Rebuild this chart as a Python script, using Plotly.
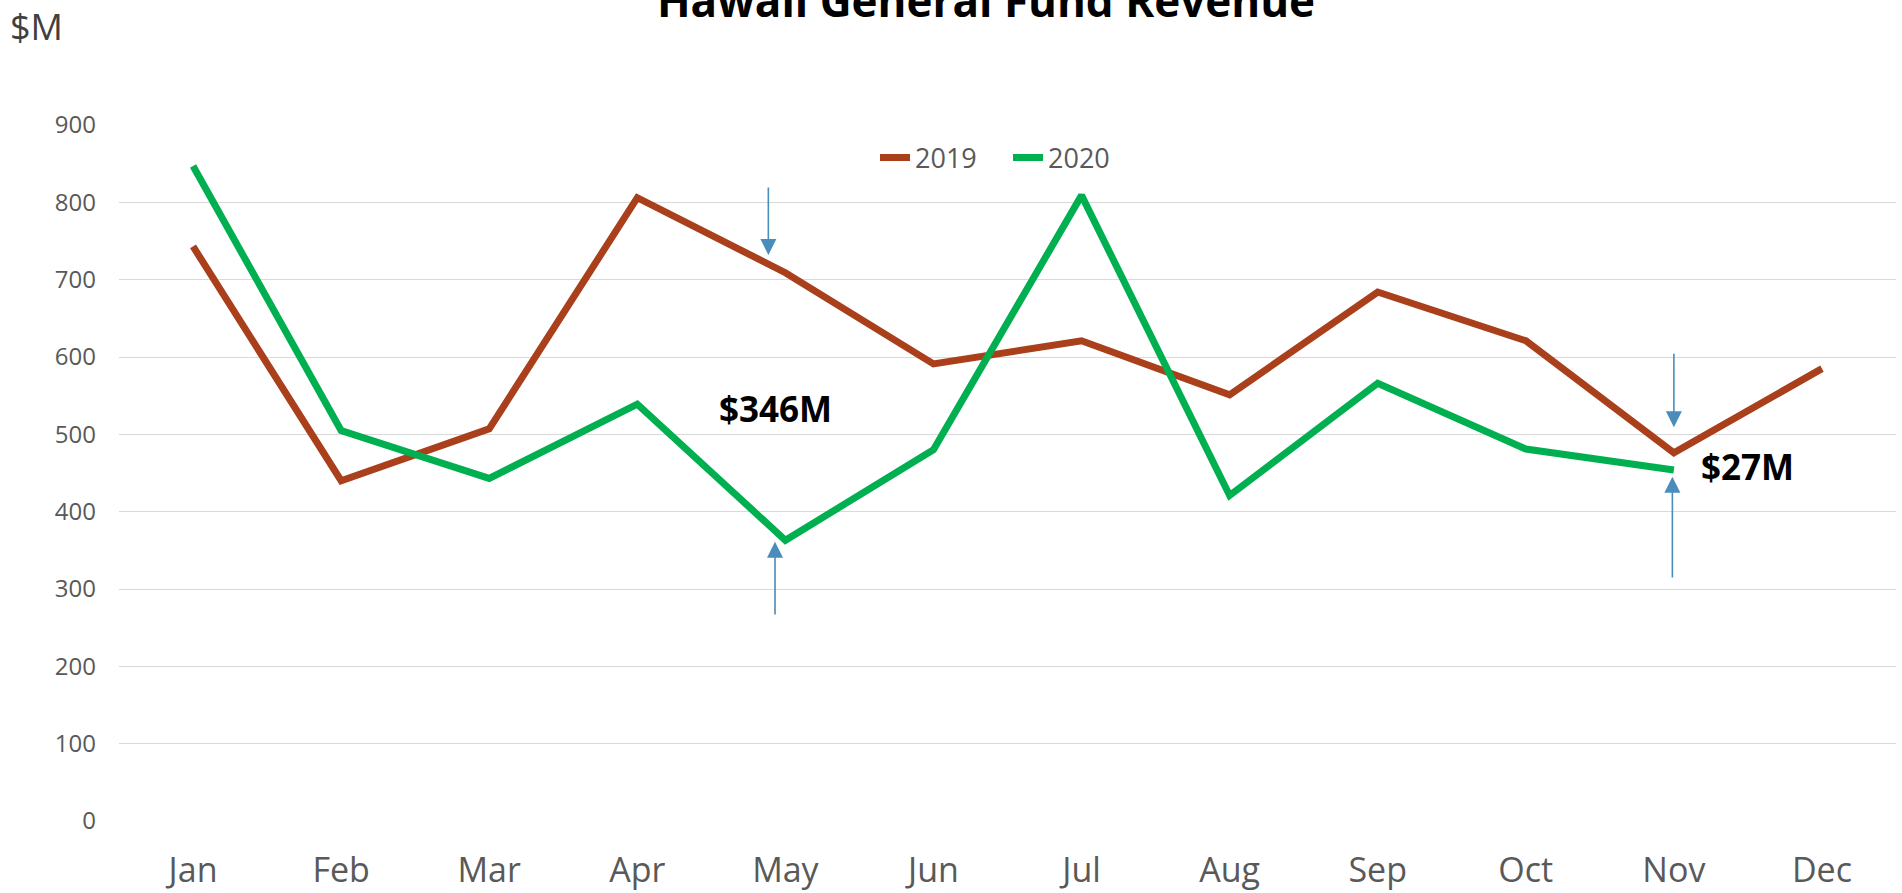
"""
Hawaii General Fund Revenue - 2019 vs 2020, monthly ($M)
"""
import plotly.graph_objects as go

MONTHS = ["Jan", "Feb", "Mar", "Apr", "May", "Jun", "Jul", "Aug", "Sep", "Oct", "Nov", "Dec"]
REV_2019 = [743, 440, 507, 806, 709, 591, 621, 551, 684, 621, 476, 585]
REV_2020 = [847, 505, 443, 539, 363, 480, 809, 421, 566, 481, 454]

COLORS = {"2019": "#A9401B", "2020": "#00B050"}
ARROW = "#4A8CBA"
FONT = "Open Sans, Noto Sans, sans-serif"

# Anmerkungen: (x-Index, Spitze, Schwanz)
ARROWS = [(3.885, 732, 821), (3.93, 361, 265), (10.0, 509, 606), (9.99, 445, 313)]
LABELS = [(3.93, 533, "$346M"), (10.5, 458, "$27M")]

fig = go.Figure()
fig.add_trace(go.Scatter(x=MONTHS, y=REV_2019, mode="lines", name="2019",
                         line=dict(color=COLORS["2019"], width=7)))
fig.add_trace(go.Scatter(x=MONTHS[:len(REV_2020)], y=REV_2020, mode="lines", name="2020",
                         line=dict(color=COLORS["2020"], width=7)))

for x, tip, tail in ARROWS:
    fig.add_annotation(x=x, y=tip, ax=x, ay=tail, xref="x", yref="y", axref="x", ayref="y",
                       text="", showarrow=True, arrowhead=2, arrowsize=2.0, arrowwidth=1.6,
                       arrowcolor=ARROW)

for x, y, txt in LABELS:
    fig.add_annotation(x=x, y=y, xref="x", yref="y", text=f"<b>{txt}</b>", showarrow=False,
                       font=dict(size=35, color="#000000", family=FONT))

fig.add_annotation(x=(8 - 119) / 1777, y=(821 - 26) / 696, xref="paper", yref="paper",
                   text="$M", showarrow=False, xanchor="left", yanchor="middle",
                   font=dict(size=36, color="#404040", family=FONT))

fig.update_layout(
    width=1902, height=893,
    paper_bgcolor="white", plot_bgcolor="white",
    margin=dict(l=119, r=6, t=125, b=72),
    font=dict(family=FONT, color="#595959"),
    title=dict(text="<b>Hawaii General Fund Revenue</b>", x=986 / 1902, xanchor="center",
               y=1 - 2 / 893, yanchor="middle", yref="container",
               font=dict(size=44, color="#000000", family=FONT)),
    showlegend=True,
    legend=dict(orientation="h", x=(875 - 119) / 1777, xanchor="left",
                y=(821 - 158) / 696, yanchor="middle", bgcolor="rgba(0,0,0,0)",
                font=dict(size=27, color="#595959"), entrywidth=88, entrywidthmode="pixels"),
    xaxis=dict(range=[-0.5, 11.5], showgrid=False, showline=False, zeroline=False,
               automargin=False, tickfont=dict(size=34, color="#595959"),
               ticklabelstandoff=26),
    yaxis=dict(range=[0, 900], dtick=100, showgrid=True, gridcolor="#D9D9D9", gridwidth=1.3,
               zeroline=False, showline=False, automargin=False,
               tickfont=dict(size=24, color="#595959"), ticklabelstandoff=22),
)

# Seitenrand entfernen, damit die Grafik bündig im Fenster sitzt
fig.write_html("out.html", config={"displayModeBar": False},
               post_script="document.body.style.margin='0';")
